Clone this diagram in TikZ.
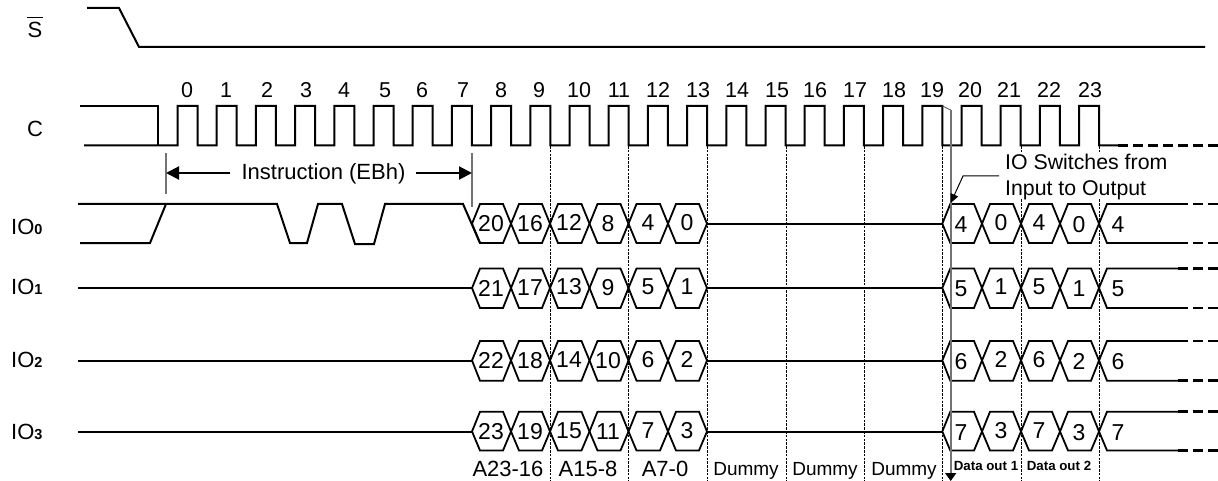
\documentclass[tikz,border=0pt]{standalone}
\usepackage{fontspec}
\setmainfont{Liberation Sans}
\usetikzlibrary{arrows.meta}
\newcommand{\fs}[1]{\fontsize{#1}{#1}\selectfont}
\tikzset{
  sig/.style={line width=2pt,line join=miter,black},
  hexln/.style={line width=1.8pt,line join=miter},
  ext/.style={line width=2.6pt,dash pattern=on 10pt off 5pt},
  tick/.style={line width=1pt,dash pattern=on 2.6pt off 1.2pt},
  grayln/.style={line width=1.6pt,black!55},
  lab/.style={inner sep=0pt,anchor=base,font=\fs{22}},
  num/.style={inner sep=0pt,anchor=base,font=\fs{21.5}},
  hexnum/.style={inner sep=0pt,anchor=center,font=\fs{23}},
  rowlab/.style={inner sep=0pt,anchor=base west,font=\fs{22}},
  dum/.style={inner sep=0pt,anchor=base,font=\fs{19}},
  dout/.style={inner sep=0pt,anchor=base,font=\fs{13.3}\bfseries},
  bigarrow/.style={line width=2pt,-{Triangle[length=13pt,width=13pt]}},
}
% hexagon between crossings #1 and #2 on a row with top #3, mid #4, bottom #5
\newcommand{\hexa}[5]{\draw[hexln] (#1,#4)--(#1+8,#3)--(#2-8,#3)--(#2,#4)--(#2-8,#5)--(#1+8,#5)--cycle;}
\begin{document}
\begin{tikzpicture}[x=1pt,y=-1pt]
\useasboundingbox (0,0) rectangle (1218,481);
% tick lines
\foreach \xx in {550,628.5,707,786,864,942.3,1021,1099}
  \draw[tick] (\xx,146) -- (\xx,481);
% S
\node[inner sep=0pt,anchor=base,font=\fs{22}] (sbar) at (35,37.7) {S};
\draw[line width=1.2pt] ([yshift=4.5pt]sbar.north west) -- ([yshift=4.5pt]sbar.north east);
\draw[sig] (87,8)--(119,8)--(139,47)--(1205,47);
% C
\node[lab] (clab) at (35,136.7) {C};
\draw[sig] (80,106)--(157.7,106)--(157.7,145.5);
\draw[sig] (84,145.5)--(177.5,145.5)
  \foreach \kk in {0,...,22} { --(177.5+39.2*\kk,106)--(197.5+39.2*\kk,106)--(197.5+39.2*\kk,145.5)--(216.7+39.2*\kk,145.5) }
  --(1079.1,106)--(1099,106)--(1099,145.5)--(1118,145.5);
\draw[ext] (1118,145.5)--(1218,145.5);
% clock numbers
\foreach \nn/\xx in {0/187,1/226,2/267,3/306,4/344,5/385,6/422,7/463,8/501,9/539,10/579,11/619,12/658,13/698,14/737,15/777,16/815,17/855,18/894,19/932,20/970,21/1009,22/1049,23/1090}
  \node[num] (n\nn) at (\xx,97.3) {\nn};
% instruction span
\draw[grayln] (166,153)--(166,194);
\draw[grayln] (472,153)--(472,207);
\coordinate (tL) at (166,173);
\coordinate (tR) at (472,173);
\node[lab] (instr) at (323.5,180) {Instruction (EBh)};
\draw[bigarrow,shorten <=11pt] (instr.west |- tL) -- (tL);
\draw[bigarrow,shorten <=10pt] (instr.east |- tR) -- (tR);
% IO0 wave
\draw[sig] (78,204)--(277,204)--(290,243)--(307,243)--(318,204)--(342,204)--(355,244)--(374,244)--(385,204)--(463,204)--(480,243);
\draw[sig] (80,243)--(150,243)--(166,204);
% rows
\foreach \rt/\rm/\rb/\rown/\yb/\la/\lb/\lc/\ld/\le/\lf/\lg/\lh in
 {204/223.7/243/0/234/20/16/12/8/4/0/4/0,
  268.5/288/308/1/294.3/21/17/13/9/5/1/5/1,
  341/360.5/380.7/2/367.3/22/18/14/10/6/2/6/2,
  411.7/431.5/450.5/3/439.3/23/19/15/11/7/3/7/3}{
  \node[rowlab] (io\rown) at (11,\yb) {IO{\fs{14.5}\bfseries\rown}};
  \ifnum\rown>0 \draw[sig] (78,\rm)--(472,\rm); \fi
  \draw[sig] (707,\rm)--(942.3,\rm);
  \hexa{472}{511}{\rt}{\rm}{\rb}
  \hexa{511}{550}{\rt}{\rm}{\rb}
  \hexa{550}{589.5}{\rt}{\rm}{\rb}
  \hexa{589.5}{628.5}{\rt}{\rm}{\rb}
  \hexa{628.5}{668}{\rt}{\rm}{\rb}
  \hexa{668}{707}{\rt}{\rm}{\rb}
  \hexa{942.3}{982}{\rt}{\rm}{\rb}
  \hexa{982}{1021}{\rt}{\rm}{\rb}
  \hexa{1021}{1060}{\rt}{\rm}{\rb}
  \hexa{1060}{1099}{\rt}{\rm}{\rb}
  \draw[hexln] (1178,\rt)--(1107,\rt)--(1099,\rm)--(1107,\rb)--(1178,\rb);
  \draw[ext] (1178,\rt)--(1218,\rt);
  \draw[ext] (1178,\rb)--(1218,\rb);
  \node[hexnum] (h\rown a) at (491,\rm) {\la};
  \node[hexnum] (h\rown b) at (530,\rm) {\lb};
  \node[hexnum] (h\rown c) at (569,\rm-1) {\lc};
  \node[hexnum] (h\rown d) at (608,\rm) {\ld};
  \node[hexnum] (h\rown e) at (648,\rm-1) {\le};
  \node[hexnum] (h\rown f) at (687,\rm-1) {\lf};
  \node[hexnum] (h\rown g) at (961,\rm+1) {\le};
  \node[hexnum] (h\rown h) at (1001,\rm-1) {\lf};
  \node[hexnum] (h\rown i) at (1039,\rm-1) {\lg};
  \node[hexnum] (h\rown j) at (1079,\rm+1) {\lh};
  \node[hexnum] (h\rown k) at (1118,\rm+1) {\lg};
}
% bottom labels
\node[lab] (a1) at (508,476) {A23-16};
\node[lab] (a2) at (588,476) {A15-8};
\node[lab] (a3) at (665,476) {A7-0};
\node[dum] (d1) at (746,475) {Dummy};
\node[dum] (d2) at (825,475) {Dummy};
\node[dum] (d3) at (904,475) {Dummy};
\node[dout] (o1) at (986,470.7) {Data out 1};
\node[dout] (o2) at (1059,470.7) {Data out 2};
% IO switch note
\node[fill=white,inner sep=0pt,minimum width=170pt,minimum height=46pt,anchor=center] (swbg) at (1088,175) {};
\node[lab,font=\fs{21.3},anchor=base west] (sw1) at (1005,170) {IO Switches from};
\node[lab,font=\fs{21.3},anchor=base west] (sw2) at (1005,196) {Input to Output};
% switch marker
\coordinate (swtop) at (942.3,106);
\coordinate (swa) at (950.7,110);
\coordinate (swb) at (950.7,481);
\coordinate (ptA) at (999,176);
\coordinate (ptB) at (963,176);
\coordinate (ptC) at (950.7,203);
\draw[line width=0.8pt,black!70] (swtop)--(swa);
\draw[grayln,-{Triangle[length=8pt,width=11pt,color=black]}] (swa)--(swb);
\draw[line width=1pt,-{Triangle[length=9pt,width=8pt]}] (ptA)--(ptB)--(ptC);
\end{tikzpicture}
\end{document}
